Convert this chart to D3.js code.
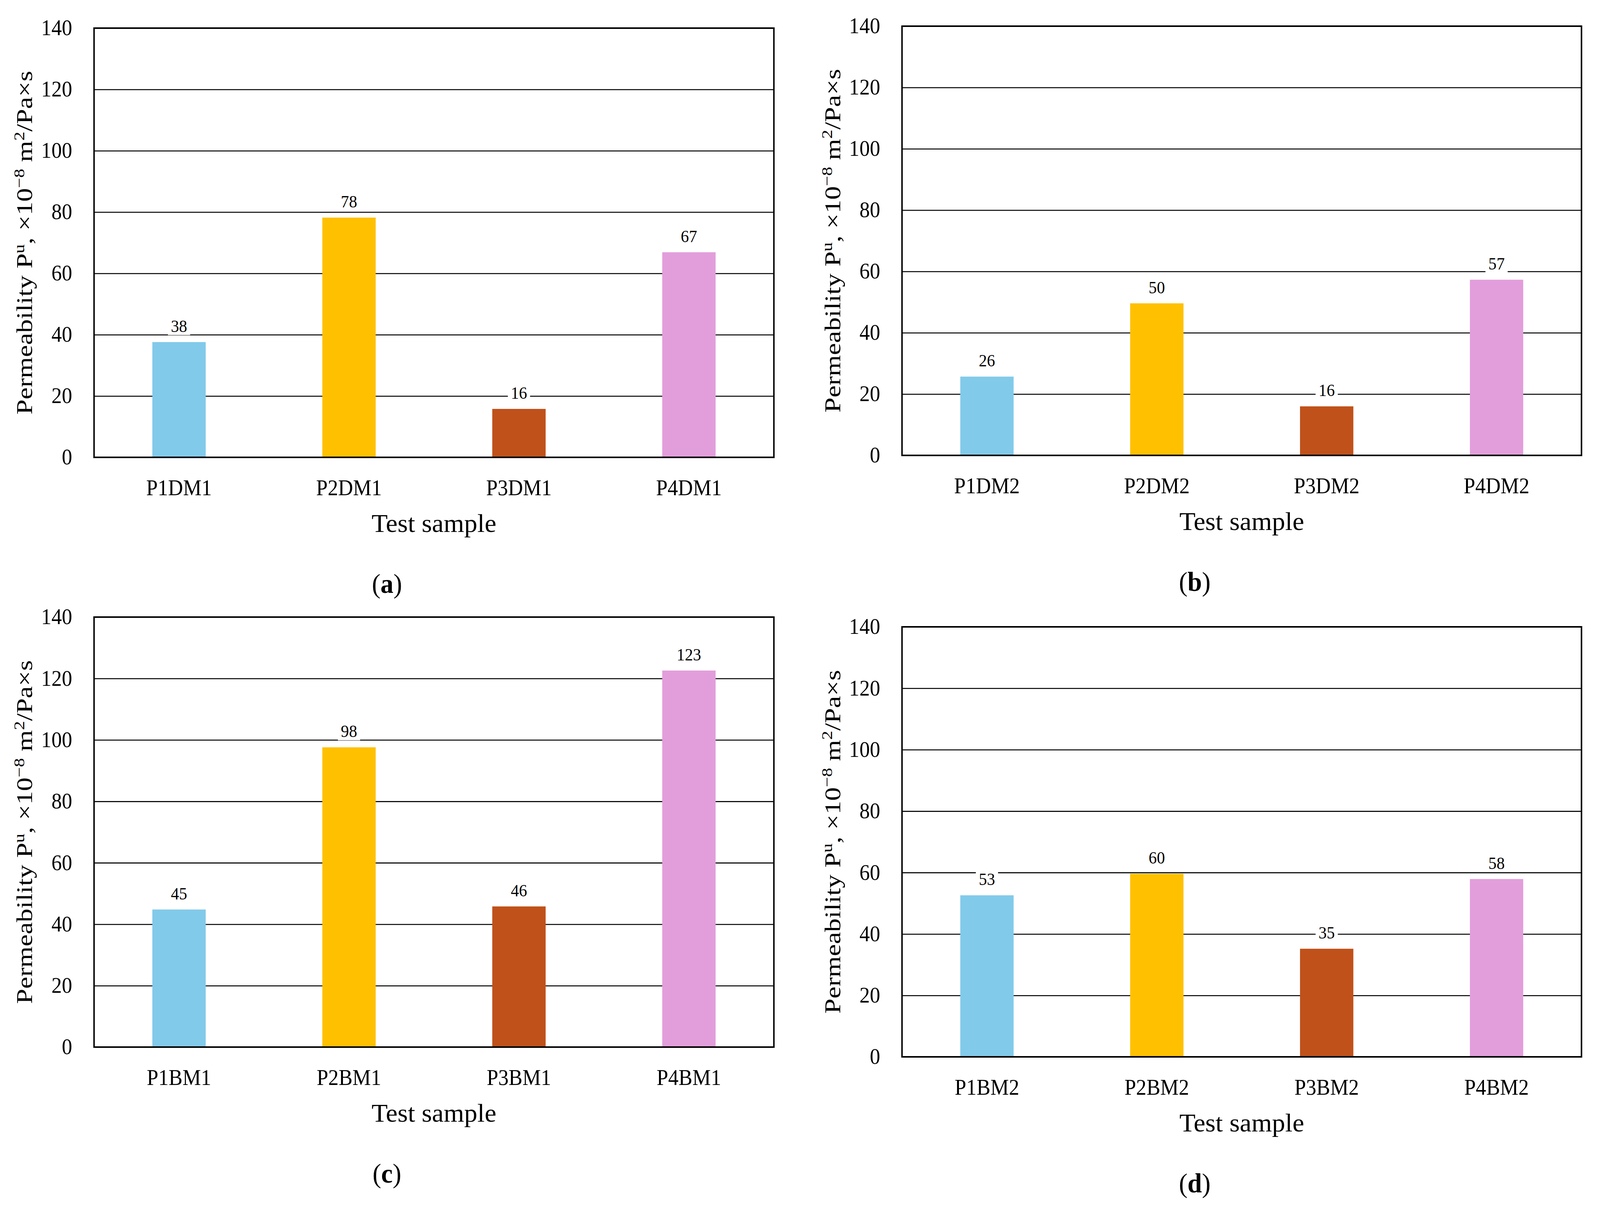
<!DOCTYPE html>
<html>
<head>
<meta charset="utf-8">
<script src="https://cdn.jsdelivr.net/npm/d3@7"></script>
<style>
  html, body { margin: 0; padding: 0; background: #fff; overflow: hidden; width: 100%; height: 100%; }
  svg { display: block; width: 100vw; height: 100vh; }
  text { font-family: "Liberation Serif", "DejaVu Serif", serif; fill: #000; }
</style>
</head>
<body>
<svg id="chart" viewBox="0 0 4321 3093" preserveAspectRatio="none"></svg>
<script>
// ---- data ----
const catsA = ["P1DM1", "P2DM1", "P3DM1", "P4DM1"];
const valsA = [37.6, 78.2, 15.8, 66.9];
const catsB = ["P1DM2", "P2DM2", "P3DM2", "P4DM2"];
const valsB = [25.7, 49.6, 16.0, 57.3];
const catsC = ["P1BM1", "P2BM1", "P3BM1", "P4BM1"];
const valsC = [44.8, 97.6, 45.8, 122.6];
const catsD = ["P1BM2", "P2BM2", "P3BM2", "P4BM2"];
const valsD = [52.6, 59.6, 35.2, 57.9];
const yTicks = [0, 20, 40, 60, 80, 100, 120, 140];
const barColors = ["#82CAEA", "#FFC000", "#C0511A", "#E29EDB"];
const panelTags = ["a", "b", "c", "d"];
const xTitle = "Test sample";

// ---- layout ----
const panels = [
  { cats: catsA, vals: valsA, tag: panelTags[0], left: 254,  right: 2090, top: 72,   bottom: 1171 },
  { cats: catsB, vals: valsB, tag: panelTags[1], left: 2436, right: 4271, top: 67,   bottom: 1166 },
  { cats: catsC, vals: valsC, tag: panelTags[2], left: 254,  right: 2090, top: 1580, bottom: 2681 },
  { cats: catsD, vals: valsD, tag: panelTags[3], left: 2436, right: 4271, top: 1605, bottom: 2706 }
];

const svg = d3.select("#chart");
svg.append("rect").attr("x", 0).attr("y", 0).attr("width", 4321).attr("height", 3093).attr("fill", "#fff");

// stretch a text horizontally (in its own direction) to a target length
function fitWidth(sel, target) {
  const w = sel.node().getComputedTextLength();
  return w > 0 ? target / w : 1;
}

panels.forEach(p => {
  const W = p.right - p.left, H = p.bottom - p.top;
  const g = svg.append("g").attr("transform", `translate(${p.left},${p.top})`);

  const x = d3.scaleBand().domain(p.cats).range([0, W]).padding(0);
  const y = d3.scaleLinear().domain([0, 140]).range([H, 0]);
  const barW = x.bandwidth() * 0.314;

  // gridlines + tick labels
  const yAxis = d3.axisLeft(y).tickValues(yTicks).tickSize(-W).tickPadding(59).tickFormat(d3.format("d"));
  const ga = g.append("g").call(yAxis);
  ga.select(".domain").remove();
  ga.selectAll(".tick line").attr("stroke", "#000").attr("stroke-width", 2.6);
  ga.selectAll(".tick text").attr("font-size", 56).attr("font-family", "Liberation Serif, serif").attr("fill", "#000");

  // bars
  g.selectAll("rect.bar").data(p.vals).enter().append("rect")
    .attr("class", "bar")
    .attr("x", (d, i) => x(p.cats[i]) + (x.bandwidth() - barW) / 2)
    .attr("y", d => y(d))
    .attr("width", barW)
    .attr("height", d => y(0) - y(d))
    .attr("fill", (d, i) => barColors[i]);

  // value labels with white background
  const fmt = d3.format(".0f");
  const lab = g.selectAll("g.vl").data(p.vals).enter().append("g").attr("class", "vl")
    .attr("transform", (d, i) => `translate(${x(p.cats[i]) + x.bandwidth() / 2},${y(d) - 26})`);
  lab.each(function(d) {
    const gg = d3.select(this);
    const t = gg.append("text").attr("text-anchor", "middle").attr("font-size", 44).text(fmt(d));
    const w = t.node().getComputedTextLength();
    gg.insert("rect", "text").attr("x", -w / 2 - 8).attr("y", -34).attr("width", w + 16).attr("height", 42).attr("fill", "#fff");
  });

  // frame
  g.append("rect").attr("x", 0).attr("y", 0).attr("width", W).attr("height", H)
    .attr("fill", "none").attr("stroke", "#000").attr("stroke-width", 4);

  // category labels
  const xAxis = d3.axisBottom(x).tickSize(0);
  const gx = g.append("g").attr("transform", `translate(0,${H})`).call(xAxis);
  gx.select(".domain").remove();
  gx.selectAll(".tick text").attr("y", 97).attr("dy", 0).attr("font-size", 56)
    .attr("font-family", "Liberation Serif, serif").attr("fill", "#000");

  // x title
  const xt = g.append("text").attr("text-anchor", "middle").attr("font-size", 66).text(xTitle);
  const sx = fitWidth(xt, 337);
  xt.attr("transform", `translate(${W / 2},${H + 191}) scale(${sx},1)`);

  // y title
  const yt = g.append("text").attr("text-anchor", "middle").attr("font-size", 60);
  yt.append("tspan").text("Permeability P");
  yt.append("tspan").attr("baseline-shift", "super").attr("font-size", 40).text("u");
  yt.append("tspan").text(", ×10");
  yt.append("tspan").attr("baseline-shift", "super").attr("font-size", 40).text("−8");
  yt.append("tspan").text(" m");
  yt.append("tspan").attr("baseline-shift", "super").attr("font-size", 40).text("2");
  yt.append("tspan").text("/Pa×s");
  const sy = fitWidth(yt, 880);
  yt.attr("transform", `translate(${-167},${H / 2}) rotate(-90) scale(${sy},1)`);

  // panel tag
  const tag = g.append("text").attr("x", (W - 254) / 2).attr("y", H + 347)
    .attr("text-anchor", "middle").attr("font-size", 70);
  tag.append("tspan").text("(");
  tag.append("tspan").attr("font-weight", "bold").text(p.tag);
  tag.append("tspan").text(")");
});
</script>
</body>
</html>
